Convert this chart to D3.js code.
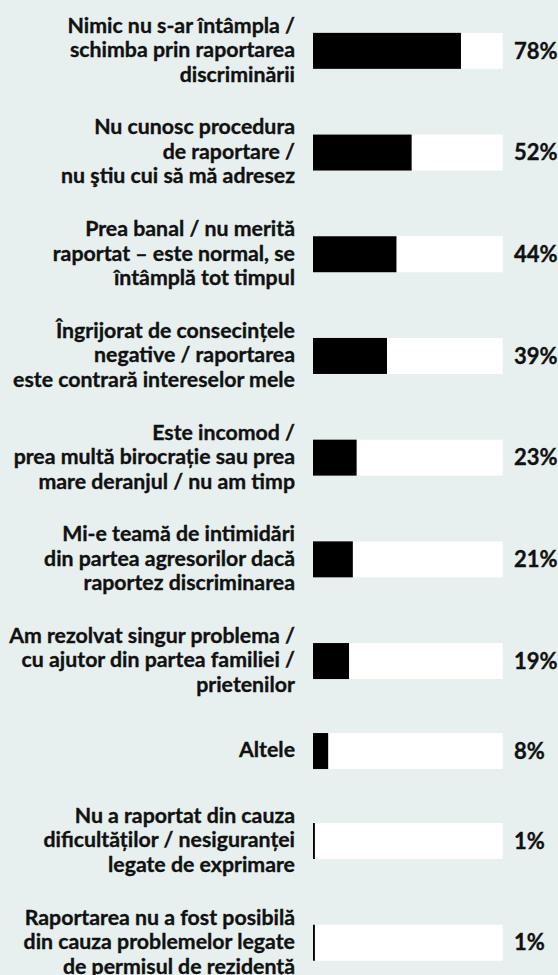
<!DOCTYPE html>
<html>
<head>
<meta charset="utf-8">
<script src="https://cdn.jsdelivr.net/npm/d3@7"></script>
<style>
  html, body { margin: 0; padding: 0; background: #e7f0ef; }
  svg { display: block; }
  text { font-family: Lato, "Open Sans", sans-serif; font-weight: bold; fill: #111; stroke: #111; stroke-width: 0.35px; }
</style>
</head>
<body>
<div id="chart"></div>
<script>
// data
const categories = [
    ["Nimic nu s-ar întâmpla /", "schimba prin raportarea", "discriminării"],
    ["Nu cunosc procedura", "de raportare /", "nu ştiu cui să mă adresez"],
    ["Prea banal / nu merită", "raportat – este normal, se", "întâmplă tot timpul"],
    ["Îngrijorat de consecințele", "negative / raportarea", "este contrară intereselor mele"],
    ["Este incomod /", "prea multă birocrație sau prea", "mare deranjul / nu am timp"],
    ["Mi-e teamă de intimidări", "din partea agresorilor dacă", "raportez discriminarea"],
    ["Am rezolvat singur problema /", "cu ajutor din partea familiei /", "prietenilor"],
    ["Altele"],
    ["Nu a raportat din cauza", "dificultăților / nesiguranței", "legate de exprimare"],
    ["Raportarea nu a fost posibilă", "din cauza problemelor legate", "de permisul de rezidență"]
];
const values = [78, 52, 44, 39, 23, 21, 19, 8, 1, 1];

const width = 558, height = 975;
const barH = 36, lineH = 24.5;
const labelX = 295, valueX = 514;

const svg = d3.select("#chart")
    .append("svg")
    .attr("width", width)
    .attr("height", height);

const x = d3.scaleLinear().domain([0, 100]).range([313, 502.7]);

// row heights depend on how many lines the label has
const rows = categories.map((lines, i) => ({ lines: lines, value: values[i] }));
let acc = 0;
rows.forEach(r => {
    r.h = 66.6 + r.lines.length * 11.7;
    r.cy = acc + r.h / 2;
    acc += r.h;
});

const g = svg.selectAll(".row")
    .data(rows)
    .enter()
    .append("g")
    .attr("class", "row")
    .attr("transform", d => `translate(0, ${d.cy})`);

g.append("rect")
    .attr("x", x(0))
    .attr("y", -barH / 2)
    .attr("width", x(100) - x(0))
    .attr("height", barH)
    .attr("fill", "#fff");

g.append("rect")
    .attr("x", x(0))
    .attr("y", -barH / 2)
    .attr("width", d => x(d.value) - x(0))
    .attr("height", barH)
    .attr("fill", "#000");

g.append("text")
    .attr("text-anchor", "end")
    .style("font-size", "21.3px")
    .each(function (d) {
        const el = d3.select(this);
        const n = d.lines.length;
        d.lines.forEach((line, j) => {
            el.append("tspan")
                .attr("x", labelX)
                .attr("y", (j - (n - 1) / 2) * lineH)
                .attr("dy", "0.3em")
                .text(line);
        });
    });

g.append("text")
    .attr("x", valueX)
    .attr("dy", "0.35em")
    .style("font-size", "22px")
    .text(d => d.value + "%");
</script>
</body>
</html>
